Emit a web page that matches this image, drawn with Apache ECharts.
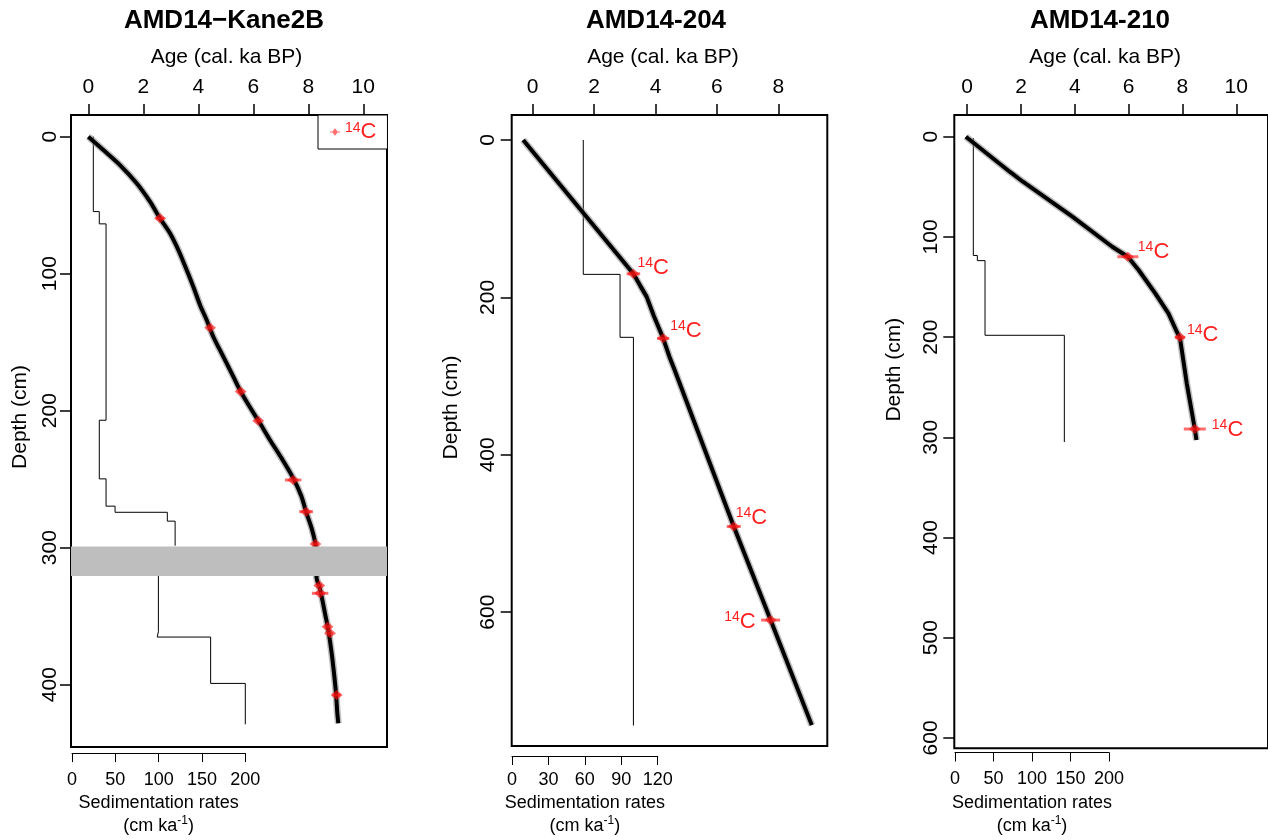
<!DOCTYPE html>
<html><head><meta charset="utf-8">
<script src="https://cdn.jsdelivr.net/npm/echarts@6/dist/echarts.min.js"></script>
<style>html,body{margin:0;padding:0;background:#fff}#c{width:1268px;height:840px}</style>
</head><body><div id="c"></div>
<script>
// ================= DATA =================
const titles = ['AMD14\u2212Kane2B', 'AMD14-204', 'AMD14-210'];
const ageTicks1 = [0, 2, 4, 6, 8, 10];
const ageTicks2 = [0, 2, 4, 6, 8];
const ageTicks3 = [0, 2, 4, 6, 8, 10];
const depthTicks1 = [0, 100, 200, 300, 400];
const depthTicks2 = [0, 200, 400, 600];
const depthTicks3 = [0, 100, 200, 300, 400, 500, 600];
const rateTicks1 = [0, 50, 100, 150, 200];
const rateTicks2 = [0, 30, 60, 90, 120];
const rateTicks3 = [0, 50, 100, 150, 200];

// age-depth model curves [age (cal. ka BP), depth (cm)]
const curve1 = [[0,0],[0.547,9.7],[1.153,20.7],[1.759,34.0],[2.244,47.4],[2.607,59.6],[2.971,70.5],[3.274,82.7],[3.577,97.3],[3.819,109.5],[4.062,122.8],[4.304,133.8],[4.546,146.0],[4.910,160.6],[5.274,175.2],[5.577,187.3],[5.941,199.5],[6.244,209.2],[6.607,221.4],[7.032,234.8],[7.456,249.4],[7.75,262.5],[7.916,273.7],[8.122,285.9],[8.256,297.3],[8.285,310],[8.304,322.4],[8.401,328.4],[8.486,335.7],[8.607,347.9],[8.728,360.1],[8.850,377.1],[8.935,391.7],[9.007,406.3],[9.056,420.9],[9.092,428.2]];
const curve2 = [[-0.31,0],[3.28,170],[3.5,185],[3.71,199],[3.95,224],[4.25,252],[4.45,275],[4.62,292],[6.55,491],[7.75,610],[9.09,743.5]];
const curve3 = [[-0.05,0],[1.58,34.9],[2.07,44.9],[3.91,79.8],[5.39,109.8],[5.97,119.8],[6.37,133],[6.99,156.3],[7.48,176.3],[7.79,194.6],[7.91,201.2],[8.16,246.1],[8.46,291.7],[8.52,302.7]];

// 14C dates [age, depth, age error (ka)]
const dates1 = [[2.61,59.6,0.15],[4.43,139.4,0.08],[5.54,186,0.1],[6.18,207.3,0.1],[7.45,250.6,0.3],[7.92,273.7,0.25],[8.26,297.3,0.1],[8.40,327.7,0.1],[8.43,333.3,0.3],[8.70,357.7,0.1],[8.79,362.5,0.1],[9.03,407.5,0.15]];
const dates2 = [[3.28,170,0.22],[4.25,252,0.2],[6.55,491,0.23],[7.75,610,0.31]];
const dates3 = [[5.97,119.8,0.39],[7.91,200.2,0.18],[8.46,291.7,0.41]];

// sedimentation rates: interval boundaries (cm) and rates (cm/ka)
const sedDepthA1 = [0, 55, 64, 208, 251, 271, 275.5, 282, 300];
const sedRateA1  = [24.6, 31.5, 39.3, 31.5, 39.3, 49.7, 110, 119];
const sedDepthB1 = [321, 363, 367, 401, 431];
const sedRateB1  = [99.7, 98.4, 160, 200];
const sedDepth2 = [0, 170.7, 250.7, 744];
const sedRate2  = [58.7, 89, 100];
const sedDepth3 = [1.5, 119.8, 125, 200.2, 307.7];
const sedRate3  = [23.8, 29, 39, 142];

// gap (grey band) in Kane2B, depth cm
const gap1 = [[299.2, 320.6]];

// ================= LAYOUT / STYLE =================
const FONT = "'Liberation Sans', Arial, Helvetica, sans-serif";
const RED = 'rgba(255,20,20,0.62)';
const TXTRED = '#ff2020';
// label offsets for "14C" annotations [dx, dy, align]
const lab2 = [[4,-6,'left'],[7,-7,'left'],[2,-8,'left'],[-15,2,'right']];
const lab3 = [[10,-5,'left'],[7,-2,'left'],[17,1,'left']];

const panels = [
  {title: titles[0], titleX: 224, nameShift: 5, grid:{left:71, top:115, width:316, height:632}, ageMin:-0.629, ageMax:10.862, ageTicks:ageTicks1,
   depthMin:-15.84, depthMax:445.5, depthTicks:depthTicks1, sed:{left:72, width:173.3}, rateMax:200, rateInterval:50, rateTicks:rateTicks1, sedOffset:9,
   rateMargin:18, sedNameGap:34, depthShift:28, labelMargin:10,
   curve:curve1, dates:dates1, labels:null, sedParts:[[sedDepthA1,sedRateA1],[sedDepthB1,sedRateB1]], smooth:0.3, depthGap:40},
  {title: titles[1], titleX: 656, nameShift: 13, grid:{left:511.7, top:115, width:315.6, height:631}, ageMin:-0.684, ageMax:9.596, ageTicks:ageTicks2,
   depthMin:-31.8, depthMax:770, depthTicks:depthTicks2, sed:{left:512, width:145.7}, rateMax:120, rateInterval:30, rateTicks:rateTicks2, sedOffset:10,
   rateMargin:15, sedNameGap:34, depthShift:46, labelMargin:13,
   curve:curve2, dates:dates2, labels:lab2, sedParts:[[sedDepth2,sedRate2]], smooth:false, depthGap:50},
  {title: titles[2], titleX: 1100, nameShift: 12, grid:{left:954.3, top:115, width:316, height:633.3}, ageMin:-0.48, ageMax:11.18, ageTicks:ageTicks3,
   depthMin:-21.7, depthMax:610.4, depthTicks:depthTicks3, sed:{left:955, width:154}, rateMax:200, rateInterval:50, rateTicks:rateTicks3, sedOffset:10,
   rateMargin:18, sedNameGap:39, depthShift:124, labelMargin:13,
   curve:curve3, dates:dates3, labels:lab3, sedParts:[[sedDepth3,sedRate3]], smooth:false, depthGap:50}
];

function stepPoints(depths, rates){
  const pts = [];
  for (let i = 0; i < rates.length; i++){
    pts.push([rates[i], depths[i]]);
    pts.push([rates[i], depths[i+1]]);
  }
  return pts;
}

function dateRenderer(labels){
  return function(params, api){
    const a = api.value(0), d = api.value(1), e = api.value(2);
    const p = api.coord([a, d]);
    const p0 = api.coord([a - e, d]);
    const p1 = api.coord([a + e, d]);
    const ch = [
      {type:'line', shape:{x1:p0[0], y1:p0[1], x2:p1[0], y2:p1[1]}, style:{stroke:RED, lineWidth:3}},
      {type:'polygon', shape:{points:[[p[0]-6,p[1]],[p[0],p[1]-5],[p[0]+6,p[1]],[p[0],p[1]+5]]}, style:{fill:RED}}
    ];
    const lo = labels && labels[params.dataIndex];
    if (lo){
      ch.push({type:'text', x:p[0]+lo[0], y:p[1]+lo[1], style:{
        text:'{s|14}{c|C}', align:lo[2], verticalAlign:'middle', fill:TXTRED, fontSize:21, fontFamily:FONT,
        rich:{s:{fontSize:14, fill:TXTRED, fontFamily:FONT, verticalAlign:'top', lineHeight:24}, c:{fontSize:22, fill:TXTRED, fontFamily:FONT, lineHeight:24}}
      }});
    }
    return {type:'group', children:ch};
  };
}

const option = {
  animation:false,
  backgroundColor:'#fff',
  title:[], grid:[], xAxis:[], yAxis:[], series:[],
  legend:{
    left:318, top:115, orient:'vertical', padding:[6,11,6,12], itemWidth:10, itemHeight:9,
    borderColor:'#000', borderWidth:1, selectedMode:false, backgroundColor:'#fff',
    data:[{name:'14C', icon:'path://M0,4 L3,4 L6,0 L9,4 L12,4 L12,5 L9,5 L6,9 L3,5 L0,5 Z', itemStyle:{color:RED}}],
    formatter:function(){ return '{s|14}{c|C}'; },
    textStyle:{color:TXTRED, fontFamily:FONT, fontSize:21,
      rich:{s:{fontSize:14, color:TXTRED, fontFamily:FONT, verticalAlign:'top', lineHeight:22}, c:{fontSize:22, color:TXTRED, fontFamily:FONT, lineHeight:22}}}
  }
};

panels.forEach((P, i) => {
  const gMain = 2*i, gSed = 2*i+1;
  option.title.push({text:P.title, left:P.titleX, top:8, textAlign:'center', padding:0,
    textStyle:{fontSize:26, fontWeight:'bold', color:'#000', fontFamily:FONT}});
  option.grid.push(Object.assign({show:true, borderColor:'#000', borderWidth:2, backgroundColor:'transparent', containLabel:false}, P.grid));
  option.grid.push({left:P.sed.left, width:P.sed.width, top:P.grid.top, height:P.grid.height, show:false, containLabel:false});
  // age axis (top)
  option.xAxis.push({type:'value', gridIndex:gMain, position:'top', min:P.ageMin, max:P.ageMax,
    name:'Age (cal. ka BP)', nameLocation:'middle', nameGap:47,
    nameTextStyle:{fontSize:21, color:'#000', fontFamily:FONT, padding:[0,P.nameShift,0,0]},
    axisLine:{show:false, onZero:false}, splitLine:{show:false},
    axisTick:{show:true, inside:false, length:11, customValues:P.ageTicks, lineStyle:{color:'#000', width:1.5}},
    axisLabel:{show:true, customValues:P.ageTicks, fontSize:21, color:'#000', fontFamily:FONT, margin:17}});
  // sedimentation rate axis (bottom)
  option.xAxis.push({type:'value', gridIndex:gSed, position:'bottom', offset:P.sedOffset, min:0, max:P.rateMax, interval:P.rateInterval,
    name:'{a|Sedimentation rates}\n{a|(cm ka}{s|-1}{a|)}', nameLocation:'middle', nameGap:P.sedNameGap,
    nameTextStyle:{color:'#000', fontFamily:FONT, rich:{a:{fontSize:18, color:'#000', fontFamily:FONT, lineHeight:23}, s:{fontSize:12, color:'#000', fontFamily:FONT, verticalAlign:'top', lineHeight:23}}},
    axisLine:{show:true, onZero:false, lineStyle:{color:'#000', width:1}}, splitLine:{show:false},
    axisTick:{show:true, inside:false, length:9, lineStyle:{color:'#000', width:1}},
    axisLabel:{show:true, fontSize:18, color:'#000', fontFamily:FONT, margin:P.rateMargin, showMinLabel:true, showMaxLabel:true}});
  // depth axis
  option.yAxis.push({type:'value', gridIndex:gMain, inverse:true, min:P.depthMin, max:P.depthMax,
    name:'Depth (cm)', nameLocation:'middle', nameRotate:90, nameGap:P.depthGap,
    nameTextStyle:{fontSize:21, color:'#000', fontFamily:FONT, padding:[0,0,0,P.depthShift]},
    axisLine:{show:false, onZero:false}, splitLine:{show:false},
    axisTick:{show:true, inside:false, length:11, customValues:P.depthTicks, lineStyle:{color:'#000', width:1.5}},
    axisLabel:{show:true, customValues:P.depthTicks, rotate:90, fontSize:21, color:'#000', fontFamily:FONT, margin:P.labelMargin}});
  option.yAxis.push({type:'value', gridIndex:gSed, inverse:true, min:P.depthMin, max:P.depthMax, show:false, axisLine:{onZero:false}});

  // sedimentation rate steps
  P.sedParts.forEach(part => {
    option.series.push({type:'line', xAxisIndex:gSed, yAxisIndex:gSed, data:stepPoints(part[0], part[1]),
      symbol:'none', lineStyle:{color:'#000', width:1}, z:2, silent:true});
  });
  // uncertainty envelope + age model
  option.series.push({type:'line', xAxisIndex:gMain, yAxisIndex:gMain, data:P.curve, smooth:P.smooth,
    symbol:'none', lineStyle:{color:'#8a8a8a', width:7, opacity:0.55}, z:3, silent:true});
  option.series.push({type:'line', xAxisIndex:gMain, yAxisIndex:gMain, data:P.curve, smooth:P.smooth,
    symbol:'none', lineStyle:{color:'#000', width:4}, z:4, silent:true});
  // dates
  option.series.push({type:'custom', name: i === 0 ? '14C' : ('14C_' + i), xAxisIndex:gMain, yAxisIndex:gMain,
    coordinateSystem:'cartesian2d', data:P.dates, renderItem:dateRenderer(P.labels), z:5, silent:true,
    itemStyle:{color:RED}});
  if (i === 0){
    option.series.push({type:'custom', xAxisIndex:gMain, yAxisIndex:gMain, coordinateSystem:'cartesian2d', data:gap1, z:8, silent:true,
      encode:{x:-1, y:[0,1]},
      renderItem:function(params, api){
        const cs = params.coordSys;
        const y0 = api.coord([0, api.value(0)])[1];
        const y1 = api.coord([0, api.value(1)])[1];
        return {type:'rect', shape:{x:cs.x, y:y0, width:cs.width, height:y1-y0}, style:{fill:'#bebebe'}};
      }});
  }
});

const chart = echarts.init(document.getElementById('c'), null, {renderer:'canvas'});
chart.setOption(option);
</script>
</body></html>
